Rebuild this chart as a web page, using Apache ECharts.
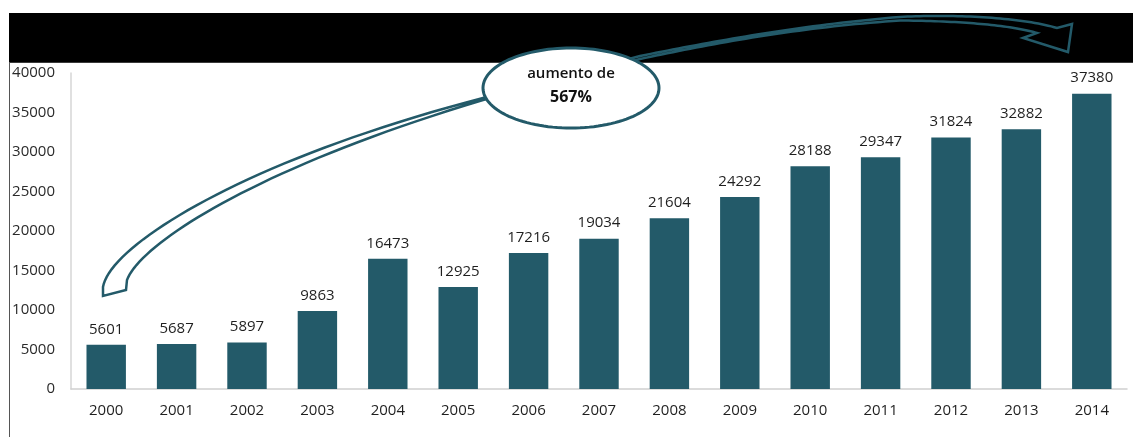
<!DOCTYPE html>
<html>
<head>
<meta charset="utf-8">
<script src="https://cdn.jsdelivr.net/npm/echarts@6/dist/echarts.min.js"></script>
<style>
html,body{margin:0;padding:0;background:#fff;}
#chart{width:1133px;height:437px;}
</style>
</head>
<body>
<div id="chart"></div>
<script>
const years = ['2000','2001','2002','2003','2004','2005','2006','2007','2008','2009','2010','2011','2012','2013','2014'];
const values = [5601,5687,5897,9863,16473,12925,17216,19034,21604,24292,28188,29347,31824,32882,37380];
const yMin = 0, yMax = 40000, yStep = 5000;
const calloutLine1 = 'aumento de';
const calloutLine2 = '567%';

const TEAL = '#235a69';
const FONT = '"Open Sans", "Noto Sans", sans-serif';

// Decorative arrow outline: start point, then segments (L = line to, C = cubic bezier)
const arrowSegs = [
  ['M', 103, 296], ['L', 103, 287],
  ['C', 110, 245, 245, 160, 483, 98],
  ['L', 640, 56],
  ['C', 710, 42, 800, 25, 900, 17],
  ['C', 950, 14, 1020, 17, 1057, 28],
  ['L', 1072, 24], ['L', 1068, 52], ['L', 1023, 38], ['L', 1037, 33],
  ['C', 1010, 25, 960, 21, 900, 20.5],
  ['C', 800, 27, 710, 44, 640, 59],
  ['L', 483, 100],
  ['C', 250, 170, 140, 245, 127, 280],
  ['L', 126, 290]
];

function buildOutline(segs) {
  const pts = [];
  let cx = 0, cy = 0;
  segs.forEach(s => {
    if (s[0] === 'M' || s[0] === 'L') { cx = s[1]; cy = s[2]; pts.push([cx, cy]); }
    else if (s[0] === 'C') {
      const [x1, y1, x2, y2, x3, y3] = s.slice(1);
      const n = 40;
      for (let i = 1; i <= n; i++) {
        const t = i / n, u = 1 - t;
        pts.push([
          u*u*u*cx + 3*u*u*t*x1 + 3*u*t*t*x2 + t*t*t*x3,
          u*u*u*cy + 3*u*u*t*y1 + 3*u*t*t*y2 + t*t*t*y3
        ]);
      }
      cx = x3; cy = y3;
    }
  });
  return pts;
}
function ellipsePts(cx, cy, rx, ry) {
  const pts = [];
  for (let i = 0; i < 120; i++) {
    const a = i / 120 * Math.PI * 2;
    pts.push([cx + rx * Math.cos(a), cy + ry * Math.sin(a)]);
  }
  return pts;
}

const chart = echarts.init(document.getElementById('chart'), null, {renderer: 'canvas'});

const option = {
  backgroundColor: '#ffffff',
  animation: false,
  grid: {left: 71, right: 6, top: 73, bottom: 48, containLabel: false},
  xAxis: {
    type: 'category',
    data: years,
    axisLine: {show: true, lineStyle: {color: '#cfcfcf', width: 1.5}},
    axisTick: {show: false},
    axisLabel: {color: '#1f1f1f', fontSize: 15, fontFamily: FONT, margin: 14}
  },
  yAxis: {
    type: 'value',
    min: yMin, max: yMax, interval: yStep,
    axisLine: {show: true, lineStyle: {color: '#d6d6d6', width: 1.5}},
    axisTick: {show: false},
    splitLine: {show: false},
    axisLabel: {color: '#2a2a2a', fontSize: 15, fontFamily: FONT, margin: 16, formatter: v => String(v)}
  },
  series: [{
    type: 'bar',
    data: values,
    barCategoryGap: '44%',
    itemStyle: {color: TEAL},
    label: {
      show: true, position: 'top', distance: 8,
      color: '#1f1f1f', fontSize: 15, fontFamily: FONT
    },
    z: 2
  }],
  graphic: [
    {type: 'rect', shape: {x: 9, y: 13, width: 1124, height: 49}, style: {fill: '#000000'}, z: 0, silent: true},
    {type: 'line', shape: {x1: 9, y1: 62.5, x2: 1133, y2: 62.5}, style: {stroke: '#3a3a3a', lineWidth: 1}, z: 1, silent: true},
    {type: 'line', shape: {x1: 9.5, y1: 62, x2: 9.5, y2: 437}, style: {stroke: '#555555', lineWidth: 1}, z: 1, silent: true},
    {type: 'polygon', shape: {points: buildOutline(arrowSegs)}, style: {fill: 'rgba(0,0,0,0)', stroke: TEAL, lineWidth: 2.5, lineJoin: 'miter'}, z: 10, silent: true},
    {type: 'polygon', shape: {points: ellipsePts(571, 88, 88, 40)}, style: {fill: '#ffffff', stroke: TEAL, lineWidth: 3}, z: 11, silent: true},
    {type: 'text', x: 571, y: 74, style: {text: calloutLine1, fill: '#111', font: '600 15px "Open Sans", sans-serif', align: 'center', verticalAlign: 'middle'}, z: 12, silent: true},
    {type: 'text', x: 571, y: 97, style: {text: calloutLine2, fill: '#111', font: 'bold 16px "Open Sans", sans-serif', align: 'center', verticalAlign: 'middle'}, z: 12, silent: true}
  ]
};
chart.setOption(option);
</script>
</body>
</html>
